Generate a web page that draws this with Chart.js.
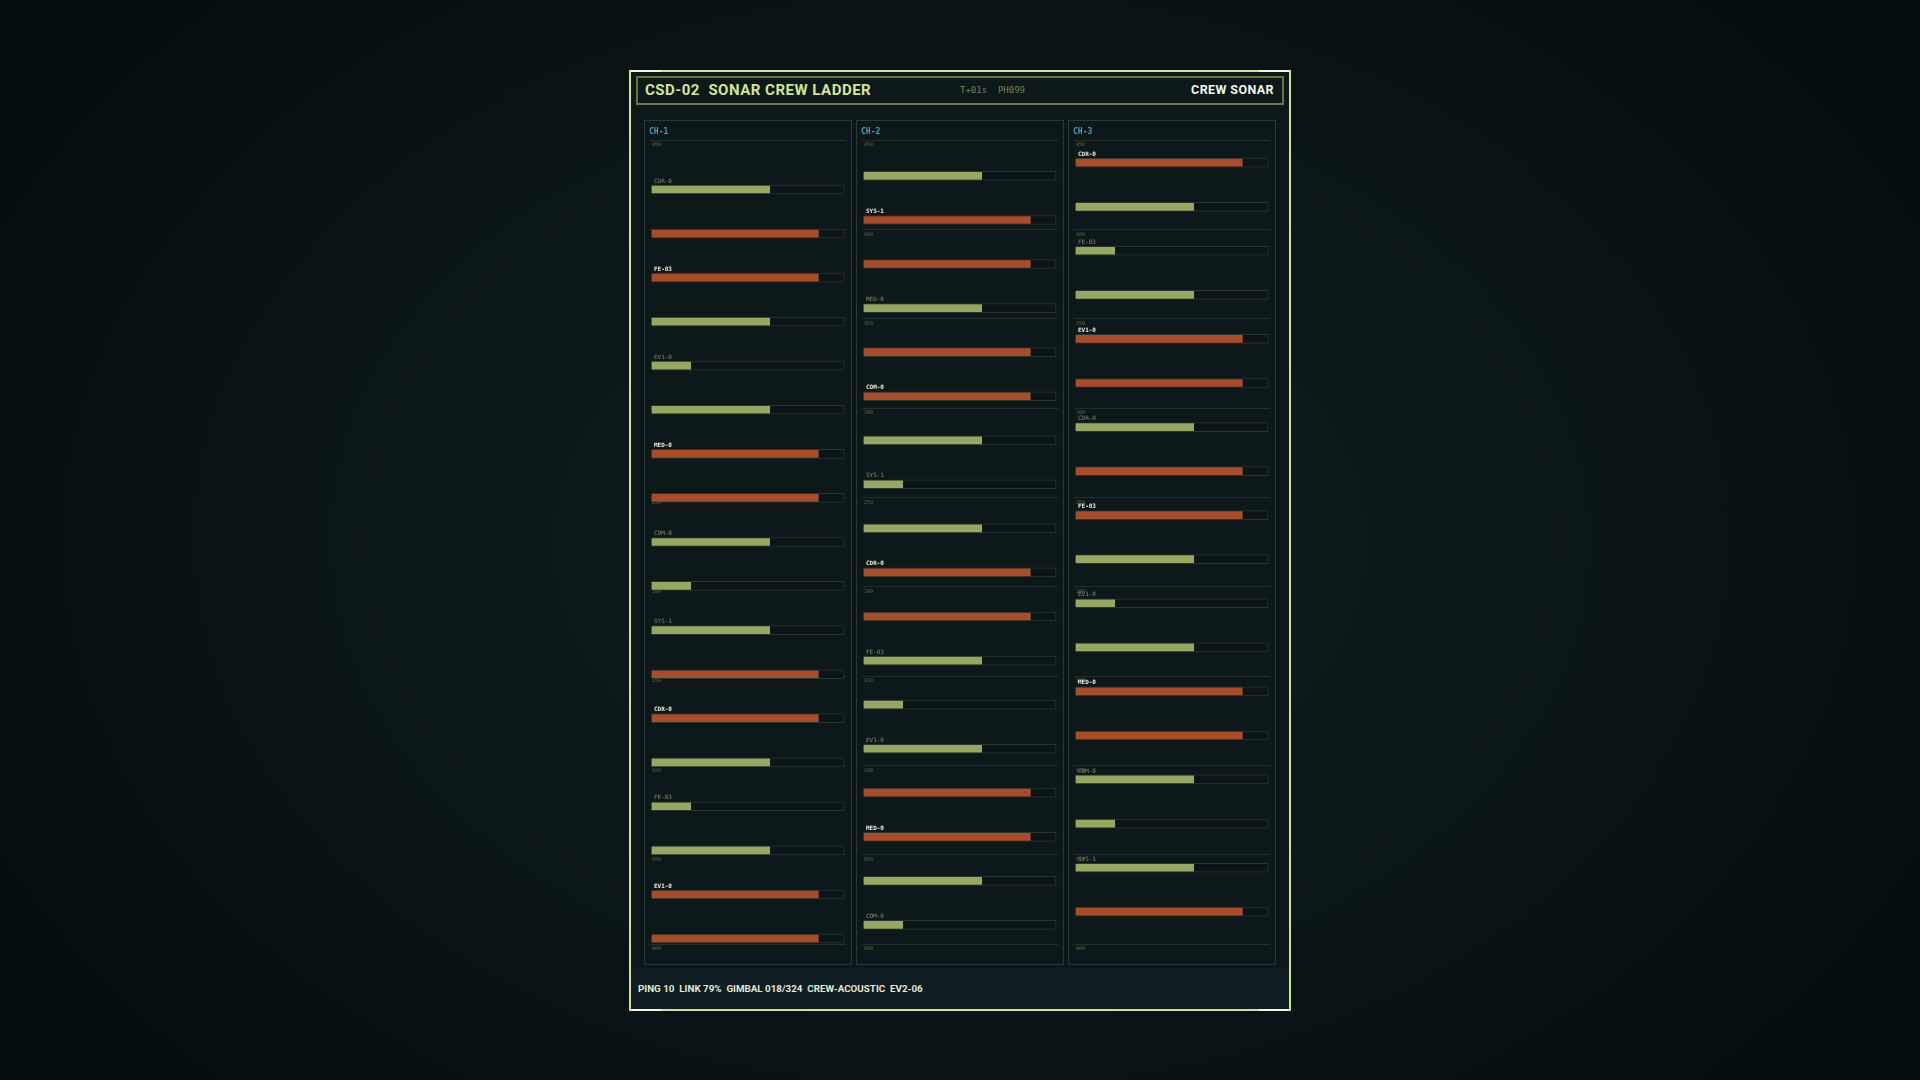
<!DOCTYPE html>
<html>
<head>
<meta charset="utf-8">
<title>CSD-02 Sonar Crew Ladder</title>
<script src="https://cdn.jsdelivr.net/npm/chart.js@4.4.1/dist/chart.umd.min.js"></script>
<style>
html, body { margin:0; padding:0; width:1920px; height:1080px; overflow:hidden; }
body {
  background: radial-gradient(ellipse 55% 70% at 50% 50%, #0f1c1e 0%, #0b1618 55%, #070e10 100%);
  font-family: Roboto, "Liberation Sans", sans-serif;
}
.abs { position:absolute; box-sizing:border-box; }
#frame { left:629px; top:70px; width:662px; height:941px; border:2px solid #d3e396; background:#0d181a; }
#footband { left:631px; top:968px; width:658px; height:41px; background:#0f1c22; }
.corner { height:2px; width:30px; background:#f2f7e2; }
#head { left:636px; top:76px; width:648px; height:29px; border:2px solid #66743f; }
#title { left:645px; top:81px; height:18px; line-height:18px; font-size:15px; font-weight:700; color:#d5e68c; letter-spacing:0.5px; white-space:pre; }
#stamp { left:960px; top:83px; height:14px; line-height:14px; font-family:"DejaVu Sans Mono", monospace; font-size:9px; color:#75825a; white-space:pre; }
#mode { right:646px; top:82px; height:16px; line-height:16px; font-size:12.5px; font-weight:700; color:#f1f4e8; letter-spacing:0.4px; }
.panel { top:120px; width:208px; height:845px; border:1px solid #2b3b31; background:#0d181a; }
.panel canvas { position:absolute; left:0; top:0; }
.chname { top:127px; height:10px; line-height:10px; font-family:"DejaVu Sans Mono", monospace; font-size:8px; font-weight:700; color:#4a9ebd; }
#foot { left:638px; top:983px; height:12px; line-height:12px; font-size:9.8px; font-weight:700; color:#e4e9d4; white-space:pre; }
</style>
</head>
<body>
<div id="frame" class="abs"></div>
<div id="footband" class="abs"></div>
<div class="abs corner" style="left:631px;top:70px"></div>
<div class="abs corner" style="left:1259px;top:70px"></div>
<div class="abs corner" style="left:631px;top:1009px"></div>
<div class="abs corner" style="left:1259px;top:1009px"></div>
<div id="head" class="abs"></div>
<div id="title" class="abs">CSD-02  SONAR CREW LADDER</div>
<div id="stamp" class="abs">T+01s  PH099</div>
<div id="mode" class="abs">CREW SONAR</div>

<div class="abs panel" style="left:644px"><canvas id="c1" width="206" height="843"></canvas></div>
<div class="abs panel" style="left:856px"><canvas id="c2" width="206" height="843"></canvas></div>
<div class="abs panel" style="left:1068px"><canvas id="c3" width="206" height="843"></canvas></div>
<div class="abs chname" style="left:649px">CH-1</div>
<div class="abs chname" style="left:861px">CH-2</div>
<div class="abs chname" style="left:1073px">CH-3</div>

<div id="foot" class="abs">PING 10  LINK 79%  GIMBAL 018/324  CREW-ACOUSTIC  EV2-06</div>

<script>
// depth scale
var depthTicks = [450, 400, 350, 300, 250, 200, 150, 100, 50, 0];
var loadMax = 100;

// CH-1
var ch1Depth = [422.3, 397.6, 373.0, 348.3, 323.7, 299.0, 274.3, 249.7, 225.0, 200.4, 175.7, 151.0, 126.4, 101.7, 77.1, 52.4, 27.7, 3.1];
var ch1Load  = [61.3, 86.6, 86.6, 61.3, 20.2, 61.3, 86.6, 86.6, 61.3, 20.2, 61.3, 86.6, 86.6, 61.3, 20.2, 61.3, 86.6, 86.6];
var ch1Crew  = ['CDR-0', '', 'FE-03', '', 'EV1-0', '', 'MED-0', '', 'COM-0', '', 'SYS-1', '', 'CDR-0', '', 'FE-03', '', 'EV1-0', ''];

// CH-2
var ch2Depth = [429.9, 405.2, 380.6, 355.9, 331.3, 306.6, 281.9, 257.3, 232.6, 208.0, 183.3, 158.6, 134.0, 109.3, 84.7, 60.0, 35.3, 10.7];
var ch2Load  = [61.3, 86.6, 86.6, 61.3, 86.6, 86.6, 61.3, 20.2, 61.3, 86.6, 86.6, 61.3, 20.2, 61.3, 86.6, 86.6, 61.3, 20.2];
var ch2Crew  = ['', 'SYS-1', '', 'MED-0', '', 'COM-0', '', 'SYS-1', '', 'CDR-0', '', 'FE-03', '', 'EV1-0', '', 'MED-0', '', 'COM-0'];

// CH-3
var ch3Depth = [437.3, 412.6, 388.0, 363.3, 338.7, 314.0, 289.3, 264.7, 240.0, 215.4, 190.7, 166.0, 141.4, 116.7, 92.1, 67.4, 42.7, 18.1];
var ch3Load  = [86.6, 61.3, 20.2, 61.3, 86.6, 86.6, 61.3, 86.6, 86.6, 61.3, 20.2, 61.3, 86.6, 86.6, 61.3, 20.2, 61.3, 86.6];
var ch3Crew  = ['CDR-0', '', 'FE-03', '', 'EV1-0', '', 'CDR-0', '', 'FE-03', '', 'EV1-0', '', 'MED-0', '', 'COM-0', '', 'SYS-1', ''];

var GREEN = '#97a660', ORANGE = '#aa4c2a';
var hot = function(v){ return v > 80; };

// crew tag above each bar
var crewTags = {
  id: 'crewTags',
  afterDatasetsDraw: function(chart) {
    var names = chart.options.plugins.crewTags.names;
    var vals = chart.data.datasets[0].data;
    var meta = chart.getDatasetMeta(0);
    var ctx = chart.ctx;
    ctx.save();
    ctx.textAlign = 'left';
    ctx.textBaseline = 'middle';
    meta.data.forEach(function(bar, i) {
      if (!names[i]) return;
      var isHot = hot(vals[i].x);
      ctx.font = (isHot ? 'bold ' : '') + '6px "DejaVu Sans Mono", monospace';
      ctx.fillStyle = isHot ? '#e9eddc' : '#838d70';
      ctx.fillText(names[i], bar.base + 2, bar.y - 8.5);
    });
    ctx.restore();
  }
};

function ladder(id, depth, load, crew) {
  var pts = [], track = [], cols = [];
  for (var i = 0; i < depth.length; i++) {
    pts.push({ x: load[i], y: depth[i] });
    track.push({ x: loadMax, y: depth[i] });
    cols.push(hot(load[i]) ? ORANGE : GREEN);
  }
  return new Chart(document.getElementById(id), {
    type: 'bar',
    data: {
      datasets: [
        { data: pts, backgroundColor: cols, borderWidth: 0, barThickness: 7, grouped: false, order: 0 },
        { data: track, backgroundColor: '#0b1416', borderColor: '#28372f', borderWidth: 1, barThickness: 9, grouped: false, order: 1 }
      ]
    },
    options: {
      indexAxis: 'y',
      responsive: false,
      animation: false,
      layout: { padding: { left: 1, right: 5, top: 19, bottom: 20 } },
      scales: {
        x: { type: 'linear', min: -1, max: 101, display: false },
        y: {
          type: 'linear', min: 0, max: 450, offset: false,
          afterBuildTicks: function(s) { s.ticks = depthTicks.map(function(v){ return { value: v }; }); },
          grid: { color: '#223029', lineWidth: 1, drawTicks: false, offset: false },
          border: { display: false },
          ticks: {
            mirror: true, padding: 2, labelOffset: 5, autoSkip: false,
            color: '#5f6c47', font: { family: '"DejaVu Sans Mono", monospace', size: 5 },
            callback: function(v) { return String(v).padStart(3, '0'); }
          }
        }
      },
      plugins: { legend: { display: false }, tooltip: { enabled: false }, crewTags: { names: crew } }
    },
    plugins: [crewTags]
  });
}

ladder('c1', ch1Depth, ch1Load, ch1Crew);
ladder('c2', ch2Depth, ch2Load, ch2Crew);
ladder('c3', ch3Depth, ch3Load, ch3Crew);
</script>
</body>
</html>
